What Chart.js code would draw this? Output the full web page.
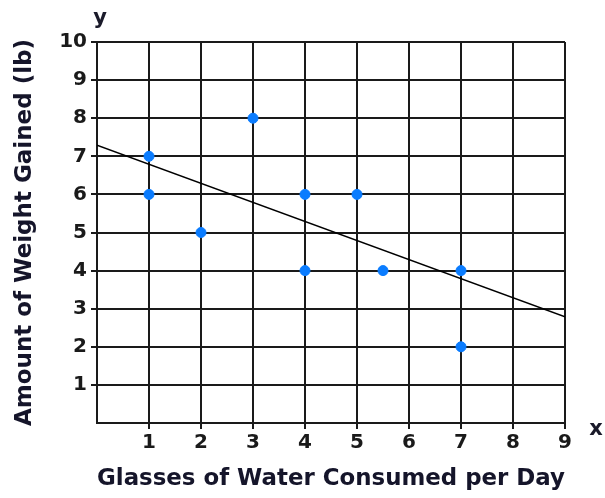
<!DOCTYPE html>
<html>
<head>
<meta charset="utf-8">
<script src="https://cdn.jsdelivr.net/npm/chart.js@4"></script>
<style>
  html, body { margin: 0; padding: 0; background: #ffffff; }
  #wrap { width: 605px; height: 498px; position: relative; }
</style>
</head>
<body>
<div id="wrap"><canvas id="waterChart"></canvas></div>
<script>
// data
const glasses = [1, 1, 2, 3, 4, 4, 5, 5.5, 7, 7];
const weightGained = [7, 6, 5, 8, 6, 4, 6, 4, 4, 2];
const trendX = [0, 9];
const trendY = [7.29, 2.79];
const xTicks = [0, 1, 2, 3, 4, 5, 6, 7, 8, 9];
const yTicks = [0, 1, 2, 3, 4, 5, 6, 7, 8, 9, 10];

const points = glasses.map((g, i) => ({ x: g, y: weightGained[i] }));
const trend = trendX.map((t, i) => ({ x: t, y: trendY[i] }));

const tickFont = { family: 'DejaVu Sans', size: 20, weight: 'bold' };
const titleFont = { family: 'DejaVu Sans', size: 23, weight: 'bold' };
const hideZeroTick = (c) => (c.tick && c.tick.value === 0 ? 'rgba(0,0,0,0)' : '#1a1a1a');

// small "x" and "y" letters at the axis ends
const axisLetters = {
    id: 'axisLetters',
    afterDraw(chart) {
        const ctx = chart.ctx;
        ctx.save();
        ctx.fillStyle = '#1a1a2a';
        ctx.font = 'bold 21px "DejaVu Sans"';
        ctx.textAlign = 'center';
        ctx.textBaseline = 'alphabetic';
        ctx.fillText('y', 100, 24);
        ctx.fillText('x', 596, 435);
        ctx.restore();
    }
};

const ctx = document.getElementById('waterChart');
new Chart(ctx, {
    type: 'scatter',
    data: {
        datasets: [
            {
                label: 'Weight',
                data: points,
                backgroundColor: '#0a7cff',
                borderColor: '#0a7cff',
                pointRadius: 5,
                pointHoverRadius: 5,
            },
            {
                type: 'line',
                label: 'Trend',
                data: trend,
                borderColor: '#000000',
                borderWidth: 1.5,
                pointRadius: 0,
                fill: false,
            },
        ],
    },
    options: {
        responsive: true,
        maintainAspectRatio: false,
        animation: false,
        layout: { padding: { top: 42, right: 40, left: 0, bottom: 0 } },
        plugins: {
            legend: { display: false },
            tooltip: { enabled: false },
        },
        scales: {
            x: {
                type: 'linear',
                min: 0,
                max: 9,
                afterBuildTicks: (scale) => { scale.ticks = xTicks.map(v => ({ value: v })); },
                afterFit: (scale) => { scale.height = 75; },
                grid: { color: '#1a1a1a', lineWidth: 2, tickLength: 6, tickColor: hideZeroTick },
                border: { color: '#1a1a1a', width: 2 },
                ticks: {
                    color: '#1a1a1a',
                    font: tickFont,
                    padding: 2,
                    callback: (v) => (v === 0 ? '' : v),
                },
                title: {
                    display: true,
                    text: 'Glasses of Water Consumed per Day',
                    color: '#15152a',
                    font: titleFont,
                    padding: { top: 0, bottom: 5 },
                },
            },
            y: {
                min: 0,
                max: 10,
                afterBuildTicks: (scale) => { scale.ticks = yTicks.map(v => ({ value: v })); },
                afterFit: (scale) => { scale.width = 97; },
                grid: { color: '#1a1a1a', lineWidth: 2, tickLength: 6, tickColor: hideZeroTick },
                border: { color: '#1a1a1a', width: 2 },
                ticks: {
                    color: '#1a1a1a',
                    font: tickFont,
                    padding: 4,
                    callback: (v) => (v === 0 ? '' : v),
                },
                title: {
                    display: true,
                    text: 'Amount of Weight Gained (lb)',
                    color: '#15152a',
                    font: titleFont,
                    padding: { top: 11, bottom: 0 },
                },
            },
        },
    },
    plugins: [axisLetters],
});
</script>
</body>
</html>
